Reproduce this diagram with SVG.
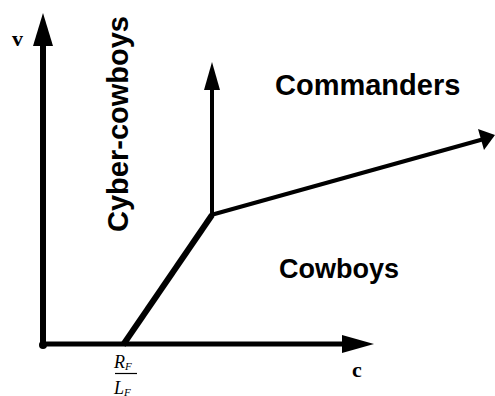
<svg xmlns="http://www.w3.org/2000/svg" width="495" height="396" viewBox="0 0 495 396">
<style>
.lbl{font-family:"Liberation Sans",Arial,sans-serif;font-weight:bold;fill:#000}
.ax{font-family:"Liberation Serif","Times New Roman",serif;font-weight:bold;fill:#000}
.it{font-family:"Liberation Serif","Times New Roman",serif;font-style:italic;fill:#000}
.ln{stroke:#000;fill:none}
</style>
<rect width="495" height="396" fill="#fff"/>
<g id="connectors">
  <line class="ln" x1="43" y1="345" x2="43" y2="44" stroke-width="6"/>
  <polygon points="43,13 33,46 53,46" fill="#000"/>
  <line class="ln" x1="43" y1="344" x2="344" y2="344" stroke-width="5"/>
  <polygon points="374,344 342,335 342,353" fill="#000"/>
  <circle cx="43" cy="345" r="4" fill="#000"/>
  <line class="ln" x1="123" y1="345" x2="212" y2="215" stroke-width="6" stroke-linecap="butt"/>
  <line class="ln" x1="212" y1="217" x2="212" y2="88" stroke-width="4"/>
  <polygon points="212,62 204,90 220,90" fill="#000"/>
  <line class="ln" x1="211" y1="215" x2="484" y2="139" stroke-width="4"/>
  <polygon points="495,135 478,129 484,150" fill="#000"/>
</g>
<g id="label-v"><text class="ax" x="12" y="46" font-size="22">v</text></g>
<g id="label-c"><text class="ax" x="352" y="377" font-size="22">c</text></g>
<g id="label-cyber"><text class="lbl" font-size="29" text-anchor="middle" transform="translate(128,124) rotate(-90)">Cyber-cowboys</text></g>
<g id="label-commanders"><text class="lbl" x="275" y="95" font-size="29">Commanders</text></g>
<g id="label-cowboys"><text class="lbl" x="279" y="278" font-size="27">Cowboys</text></g>
<g id="label-fraction">
  <text class="it" x="114" y="368" font-size="18">R<tspan font-size="11" dy="2">F</tspan></text>
  <line x1="115" y1="373.5" x2="137" y2="373.5" stroke="#000" stroke-width="1.2"/>
  <text class="it" x="114" y="394" font-size="18">L<tspan font-size="11" dy="2">F</tspan></text>
</g>
</svg>
